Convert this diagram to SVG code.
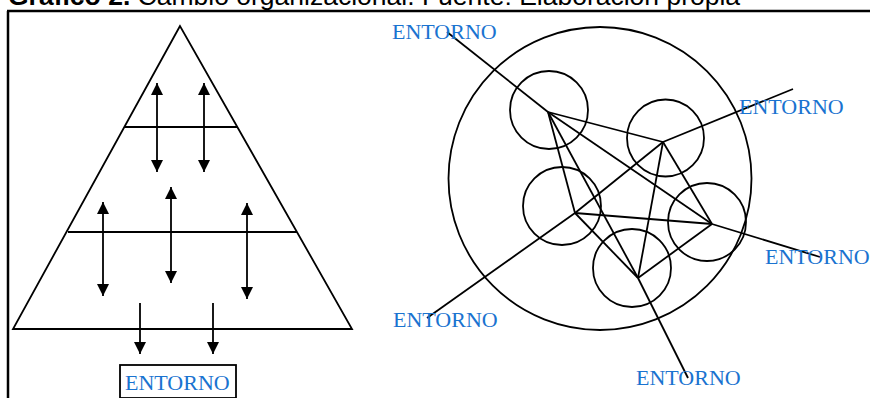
<svg xmlns="http://www.w3.org/2000/svg" width="870" height="398" viewBox="0 0 870 398">
<style>
.ln{stroke:#000;stroke-width:1.8;fill:none}
.bd{stroke:#000;stroke-width:2.5;fill:none}
.lbl{font-family:"Liberation Serif","Times New Roman",serif;font-size:22px;fill:#1a73d0}
.ttl{font-family:"Liberation Sans",Arial,sans-serif;font-size:26.5px;fill:#000}
</style>
<defs>
<marker id="ah" viewBox="0 0 12 12" refX="12" refY="6" markerWidth="12" markerHeight="12" markerUnits="userSpaceOnUse" orient="auto-start-reverse">
<path d="M0,0 L12,6 L0,12 Z" fill="#000"/>
</marker>
</defs>
<rect width="870" height="398" fill="#fff"/>
<text class="ttl" x="8" y="5"><tspan font-weight="bold">Gráfico 2.</tspan> Cambio organizacional. Fuente: Elaboración propia</text>
<g id="frame">
<line class="bd" x1="7" y1="11" x2="870" y2="11"/>
<line class="bd" x1="8" y1="11" x2="8" y2="398"/>
</g>
<g id="pyramid">
<polygon class="ln" points="180,26 13,329 352,329"/>
<line class="ln" x1="124" y1="127" x2="237" y2="127"/>
<line class="ln" x1="68" y1="232" x2="297" y2="232"/>
</g>
<g id="pyramid-arrows">
<line class="ln" x1="157" y1="83" x2="157" y2="172" marker-start="url(#ah)" marker-end="url(#ah)"/>
<line class="ln" x1="204" y1="83" x2="204" y2="172" marker-start="url(#ah)" marker-end="url(#ah)"/>
<line class="ln" x1="171" y1="187" x2="171" y2="283" marker-start="url(#ah)" marker-end="url(#ah)"/>
<line class="ln" x1="103" y1="202" x2="103" y2="296" marker-start="url(#ah)" marker-end="url(#ah)"/>
<line class="ln" x1="247" y1="203" x2="247" y2="299" marker-start="url(#ah)" marker-end="url(#ah)"/>
<line class="ln" x1="140" y1="303" x2="140" y2="354" marker-end="url(#ah)"/>
<line class="ln" x1="213" y1="303" x2="213" y2="354" marker-end="url(#ah)"/>
</g>
<g id="entorno-box">
<rect class="ln" x="120" y="365" width="116" height="33"/>
<text class="lbl" x="125" y="390">ENTORNO</text>
</g>
<g id="network">
<circle id="outer" class="ln" cx="600" cy="178.5" r="151.5"/>
<circle id="n1" class="ln" cx="549" cy="110" r="39"/>
<circle id="n2" class="ln" cx="665.5" cy="138" r="38.5"/>
<circle id="n3" class="ln" cx="562" cy="206" r="39"/>
<circle id="n4" class="ln" cx="707" cy="222" r="39"/>
<circle id="n5" class="ln" cx="632" cy="268" r="39"/>
</g>
<g id="connectors">
<line class="ln" x1="548" y1="112" x2="663" y2="142"/>
<line class="ln" x1="548" y1="112" x2="575" y2="213"/>
<line class="ln" x1="548" y1="112" x2="712" y2="224"/>
<line class="ln" x1="548" y1="112" x2="638" y2="278"/>
<line class="ln" x1="663" y1="142" x2="575" y2="213"/>
<line class="ln" x1="663" y1="142" x2="712" y2="224"/>
<line class="ln" x1="663" y1="142" x2="638" y2="278"/>
<line class="ln" x1="575" y1="213" x2="712" y2="224"/>
<line class="ln" x1="575" y1="213" x2="638" y2="278"/>
<line class="ln" x1="712" y1="224" x2="638" y2="278"/>
<line class="ln" x1="548" y1="112" x2="447" y2="32"/>
<line class="ln" x1="663" y1="142" x2="793" y2="89"/>
<line class="ln" x1="712" y1="224" x2="820" y2="257"/>
<line class="ln" x1="638" y1="278" x2="688" y2="378"/>
<line class="ln" x1="575" y1="213" x2="427" y2="318"/>
</g>
<g id="labels">
<text class="lbl" x="392" y="39">ENTORNO</text>
<text class="lbl" x="739" y="114">ENTORNO</text>
<text class="lbl" x="765" y="264">ENTORNO</text>
<text class="lbl" x="393" y="327">ENTORNO</text>
<text class="lbl" x="636" y="385">ENTORNO</text>
</g>
</svg>
